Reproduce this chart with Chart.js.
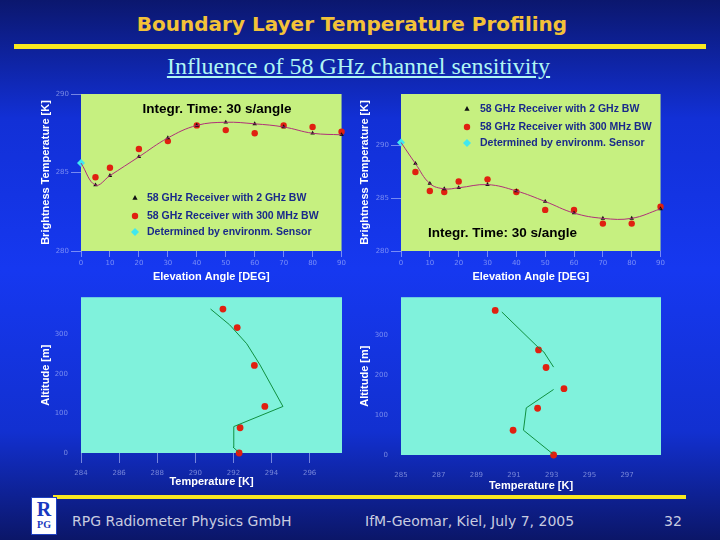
<!DOCTYPE html>
<html>
<head>
<meta charset="utf-8">
<script src="https://cdn.jsdelivr.net/npm/chart.js@4.4.0/dist/chart.umd.min.js"></script>
<style>
  body { margin:0; width:720px; height:540px; overflow:hidden; position:relative;
         background: linear-gradient(180deg, #0b176e 0%, #1230d6 22%, #1638f0 50%, #1230d0 80%, #0b1668 100%); }
  canvas { position:absolute; }
  #title { position:absolute; left:0; width:704px; top:12px; text-align:center;
           font: bold 20px "DejaVu Sans", sans-serif; color:#f3c238; }
  #bar1 { position:absolute; left:14px; width:692px; top:44px; height:5px; background:#f8e820; }
  #sub { position:absolute; left:0; width:717px; top:53px; text-align:center;
         font: 24px "Liberation Serif", serif; color:#b0f6f4; text-decoration: underline; }
  #bar2 { position:absolute; left:53px; width:633px; top:495px; height:4px; background:#f8e820; }
  .foot { position:absolute; top:513px; font: 14px "DejaVu Sans", sans-serif; color:#c8cce0; }
  #logo { position:absolute; left:31px; top:497px; width:26px; height:38px; background:#fff;
          border:1px solid #2040c0; box-sizing:border-box; text-align:center; color:#1838c0;
          font: bold 10px "Liberation Serif", serif; line-height:10px; }
</style>
</head>
<body>
<div id="title">Boundary Layer Temperature Profiling</div>
<div id="bar1"></div>
<div id="sub">Influence of 58 GHz channel sensitivity</div>

<canvas id="c1" width="312" height="200" style="left:36px;top:84px"></canvas>
<canvas id="c2" width="312" height="200" style="left:355px;top:84px"></canvas>
<canvas id="c3" width="312" height="200" style="left:36px;top:290px"></canvas>
<canvas id="c4" width="312" height="204" style="left:355px;top:290px"></canvas>

<div id="bar2"></div>
<div id="logo"><div style="font-size:20px;line-height:22px">R</div>PG</div>
<div class="foot" style="left:72px">RPG Radiometer Physics GmbH</div>
<div class="foot" style="left:365px">IfM-Geomar, Kiel, July 7, 2005</div>
<div class="foot" style="left:664px">32</div>

<script>
// ---- data: elevation scans (brightness temperature, K)
const anglesL = [5, 10, 20, 30, 40, 50, 60, 70, 80, 90];
const tb2GHzL = [284.2, 284.8, 286.0, 287.2, 288.0, 288.2, 288.1, 287.9, 287.5, 287.4];
const tb300MHzL = [284.7, 285.3, 286.5, 287.0, 288.0, 287.7, 287.5, 288.0, 287.9, 287.6];
const sensorL = 285.6;

const anglesR = [5, 10, 15, 20, 30, 40, 50, 60, 70, 80, 90];
const tb2GHzR = [288.3, 286.4, 285.9, 286.0, 286.3, 285.7, 284.7, 283.6, 283.1, 283.1, 284.0];
const tb300MHzR = [287.5, 285.7, 285.6, 286.6, 286.8, 285.6, 283.9, 283.9, 282.6, 282.6, 284.2];
const sensorR = 290.3;

// ---- data: temperature profiles (altitude m, temperature K)
const dotAltL = [0, 64, 118, 222, 318, 365];
const dotTempL = [292.3, 292.35, 293.65, 293.1, 292.2, 291.45];
const lineAltL = [2, 15, 67, 118, 223, 277, 325, 365];
const lineTempL = [292.28, 291.98, 292.02, 294.6, 293.4, 292.7, 291.8, 290.8];

const dotAltR = [0, 62, 117, 166, 219, 263, 362];
const dotTempR = [293.1, 290.95, 292.25, 293.65, 292.7, 292.3, 290.0];
const lineAltR1 = [358, 270, 258, 220];
const lineTempR1 = [290.35, 292.27, 292.58, 293.1];
const lineAltR2 = [164, 118, 62, 3];
const lineTempR2 = [293.1, 291.65, 291.5, 293.05];

// ---- tick labels
const altTicks = [0, 100, 200, 300];
const tempTicksL = [284, 286, 288, 290, 292, 294, 296];
const tempTicksR = [285, 287, 289, 291, 293, 295, 297];

const legendTexts = ["58 GHz Receiver with 2 GHz BW", "58 GHz Receiver with 300 MHz BW", "Determined by environm. Sensor"];
const noteText = "Integr. Time: 30 s/angle";

const xy = (xs, ys) => xs.map((x, i) => ({x: x, y: ys[i]}));

// ---- plugins
const areaFill = {
  id: 'areaFill',
  beforeDraw(c, a, o) {
    const {ctx, chartArea: {left, top, width, height}} = c;
    ctx.save();
    ctx.fillStyle = o.color;
    ctx.fillRect(left, top, width, height);
    ctx.restore();
  }
};

function marker(ctx, kind, x, y) {
  ctx.save();
  ctx.beginPath();
  if (kind === 'tri') {
    ctx.fillStyle = '#101010';
    ctx.moveTo(x, y - 3); ctx.lineTo(x + 2.6, y + 1.8); ctx.lineTo(x - 2.6, y + 1.8);
  } else if (kind === 'dot') {
    ctx.fillStyle = '#e02010';
    ctx.arc(x, y, 3.2, 0, Math.PI * 2);
  } else {
    ctx.fillStyle = '#40e8f0';
    ctx.moveTo(x, y - 4); ctx.lineTo(x + 4, y); ctx.lineTo(x, y + 4); ctx.lineTo(x - 4, y);
  }
  ctx.closePath();
  ctx.fill();
  ctx.restore();
}

const notes = {
  id: 'notes',
  afterDatasetsDraw(c, a, o) {
    if (!o.rows) return;
    const ctx = c.ctx;
    ctx.save();
    ctx.textBaseline = 'middle';
    ctx.font = 'bold 10.5px "Liberation Sans", sans-serif';
    ctx.fillStyle = '#1a2a8a';
    const kinds = ['tri', 'dot', 'dia'];
    o.rows.forEach((ry, i) => {
      marker(ctx, kinds[i], o.mx, ry);
      ctx.fillText(legendTexts[i], o.tx, ry);
    });
    ctx.font = 'bold 13.5px "Liberation Sans", sans-serif';
    ctx.fillStyle = '#000';
    ctx.textAlign = o.noteAlign;
    ctx.fillText(noteText, o.noteX, o.noteY);
    ctx.restore();
  }
};

const tickFont = {size: 7, family: '"DejaVu Sans", sans-serif'};
const tickColor = 'rgba(200,210,255,0.55)';
const titleFont = {size: 11, weight: 'bold', family: '"Liberation Sans", sans-serif'};
const fixTicks = vals => (s => { s.ticks = vals.map(v => ({value: v})); });

function scanChart(id, angles, tb2, tb300, sensor, yMax, yW, legendOpts) {
  const curve = [{x: 0, y: sensor}].concat(xy(angles, tb2));
  return new Chart(document.getElementById(id), {
    type: 'scatter',
    data: {
      datasets: [
        {data: curve, showLine: true, tension: 0.4, borderColor: '#b03078', borderWidth: 1, pointRadius: 0},
        {data: xy(angles, tb2), pointStyle: 'triangle', pointRadius: 2.6, backgroundColor: '#101010', borderWidth: 0},
        {data: xy(angles, tb300), pointStyle: 'circle', pointRadius: 3.2, backgroundColor: '#e02010', borderWidth: 0},
        {data: [{x: 0, y: sensor}], pointStyle: 'rectRot', pointRadius: 4, backgroundColor: '#40e8f0', borderWidth: 0}
      ]
    },
    options: {
      responsive: false, animation: false, clip: false,
      layout: {padding: {left: 0, right: 6, top: 10, bottom: 0}},
      plugins: {legend: {display: false}, tooltip: {enabled: false},
                areaFill: {color: '#c6f080'}, notes: legendOpts},
      scales: {
        x: {min: 0, max: 90, border: {display: false},
            grid: {drawOnChartArea: false, tickLength: 6, color: tickColor},
            ticks: {stepSize: 10, font: tickFont, color: tickColor, padding: 2, maxRotation: 0},
            title: {display: true, text: 'Elevation Angle [DEG]', color: '#fff', font: titleFont, padding: {top: 0, bottom: 0}},
            afterFit(s) { s.height = 33; }},
        y: {min: 280, max: yMax, border: {display: false},
            grid: {drawOnChartArea: false, tickLength: 10, color: tickColor},
            ticks: {stepSize: 5, includeBounds: false, font: tickFont, color: tickColor, padding: 2},
            title: {display: true, text: 'Brightness Temperature [K]', color: '#fff', font: titleFont, padding: {top: 3, bottom: 0}},
            afterFit(s) { s.width = yW; }}
      }
    },
    plugins: [areaFill, notes]
  });
}

function profileChart(id, dots, lines, xMin, xMax, xTicks, yW, xH, showXTicks) {
  const ds = lines.map(l => ({data: l, showLine: true, borderColor: '#109040', borderWidth: 1, pointRadius: 0}));
  ds.push({data: dots, pointStyle: 'circle', pointRadius: 3.4, backgroundColor: '#e02010', borderWidth: 0});
  return new Chart(document.getElementById(id), {
    type: 'scatter',
    data: {datasets: ds},
    options: {
      responsive: false, animation: false, clip: false,
      layout: {padding: {left: 0, right: 6, top: 7, bottom: 0}},
      plugins: {legend: {display: false}, tooltip: {enabled: false}, areaFill: {color: '#80f2dc'}},
      scales: {
        x: {min: xMin, max: xMax, border: {display: false},
            grid: {drawOnChartArea: false, tickLength: 10, color: showXTicks ? tickColor : 'rgba(0,0,0,0)'},
            ticks: {font: tickFont, color: tickColor, padding: 6, maxRotation: 0},
            afterBuildTicks: fixTicks(xTicks),
            title: {display: true, text: 'Temperature [K]', color: '#fff', font: titleFont, padding: {top: 0, bottom: 1}},
            afterFit(s) { s.height = xH; }},
        y: {min: 0, max: 395, border: {display: false},
            grid: {drawOnChartArea: false, tickLength: 10, color: 'rgba(0,0,0,0)'},
            ticks: {font: tickFont, color: tickColor, padding: 3},
            afterBuildTicks: fixTicks(altTicks),
            title: {display: true, text: 'Altitude [m]', color: '#fff', font: titleFont, padding: {top: 3, bottom: 0}},
            afterFit(s) { s.width = yW; }}
      }
    },
    plugins: [areaFill]
  });
}

scanChart('c1', anglesL, tb2GHzL, tb300MHzL, sensorL, 290, 45,
  {rows: [114, 132, 148], mx: 99, tx: 111, noteX: 181, noteY: 25, noteAlign: 'center'});
scanChart('c2', anglesR, tb2GHzR, tb300MHzR, sensorR, 294.9, 46,
  {rows: [25, 43, 59], mx: 112, tx: 125, noteX: 73, noteY: 149, noteAlign: 'left'});

profileChart('c3', xy(dotTempL, dotAltL), [xy(lineTempL, lineAltL)], 284, 297.7, tempTicksL, 45, 37, true);
profileChart('c4', xy(dotTempR, dotAltR), [xy(lineTempR1, lineAltR1), xy(lineTempR2, lineAltR2)], 285, 298.8, tempTicksR, 46, 39, false);
</script>
</body>
</html>
